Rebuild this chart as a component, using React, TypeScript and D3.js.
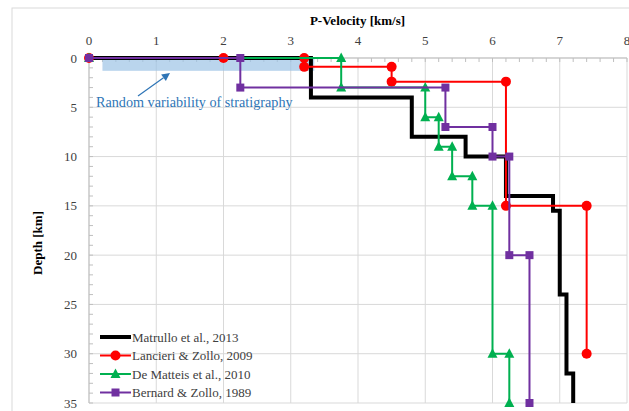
import React from "react";
import * as d3 from "d3";

type Pt = [number, number];

const matrullo: Pt[] = [[0,0],[3.3,0],[3.3,4],[4.8,4],[4.8,8],[5.6,8],[5.6,10],[6.2,10],[6.2,14],[6.9,14],[6.9,15.5],[7.0,15.5],[7.0,24],[7.1,24],[7.1,32],[7.2,32],[7.2,35]];
const lancieri: Pt[] = [[0,0],[2.0,0],[3.2,0],[3.2,0.9],[4.5,0.9],[4.5,2.4],[6.2,2.4],[6.2,15],[7.4,15],[7.4,30]];
const dematteis: Pt[] = [[0,0],[3.75,0],[3.75,3],[5.0,3],[5.0,6],[5.2,6],[5.2,9],[5.4,9],[5.4,12],[5.7,12],[5.7,15],[6.0,15],[6.0,30],[6.25,30],[6.25,35]];
const bernard: Pt[] = [[0,0],[2.25,0],[2.25,3],[5.3,3],[5.3,7],[6.0,7],[6.0,10],[6.25,10],[6.25,20],[6.55,20],[6.55,35]];

const xTicks = [0,1,2,3,4,5,6,7,8];
const yTicks = [0,5,10,15,20,25,30,35];
const stratBand = { v0: 0.2, v1: 3.35, d0: 0.1, d1: 1.3 };

const series = [
  { name: "Matrullo et al., 2013", data: matrullo, color: "#000000", width: 4, marker: "none" },
  { name: "Lancieri & Zollo, 2009", data: lancieri, color: "#ff0000", width: 2, marker: "circle" },
  { name: "De Matteis et al., 2010", data: dematteis, color: "#00b050", width: 2, marker: "triangle" },
  { name: "Bernard & Zollo, 1989", data: bernard, color: "#7030a0", width: 2, marker: "square" },
];

function Marker({ type, x, y, color }: { type: string; x: number; y: number; color: string }) {
  if (type === "circle") return <circle cx={x} cy={y} r={5} fill={color} />;
  if (type === "square") return <rect x={x - 4} y={y - 4} width={8} height={8} fill={color} />;
  if (type === "triangle") return <path d={`M${x},${y - 5.5}L${x + 5},${y + 4}L${x - 5},${y + 4}Z`} fill={color} />;
  return null;
}

export default function App() {
  const W = 629, H = 411;
  const x = d3.scaleLinear().domain([0, 8]).range([89, 627]);
  const y = d3.scaleLinear().domain([0, 35]).range([58, 403]);
  const line = d3.line<Pt>().x(d => x(d[0])).y(d => y(d[1]));
  const minorX = d3.range(0, 8.001, 0.2);
  const minorY = d3.range(0, 35.001, 1);
  const serif = "'Liberation Serif', 'Times New Roman', serif";
  const blue = "#2e75b6";
  const ax0 = 138, ay0 = 96, ax1 = 170, ay1 = 73;
  const ang = Math.atan2(ay1 - ay0, ax1 - ax0);
  const ah = 8, aw = 4;
  const bx = ax1 - ah * Math.cos(ang), by = ay1 - ah * Math.sin(ang);
  const arrowHead = `M${ax1},${ay1}L${bx - aw * Math.sin(ang)},${by + aw * Math.cos(ang)}L${bx + aw * Math.sin(ang)},${by - aw * Math.cos(ang)}Z`;

  return (
    <svg width={W} height={H} style={{ position: "absolute", left: 0, top: 0, background: "#fff" }} fontFamily={serif}>
      <rect x={12} y={8} width={640} height={420} fill="#fff" stroke="#d9d9d9" strokeWidth={1} />
      {xTicks.map(t => (
        <line key={"gx" + t} x1={x(t)} x2={x(t)} y1={y(0)} y2={y(35)} stroke="#d9d9d9" strokeWidth={1} />
      ))}
      {yTicks.map(t => (
        <line key={"gy" + t} x1={x(0)} x2={x(8)} y1={y(t)} y2={y(t)} stroke="#d9d9d9" strokeWidth={1} />
      ))}
      <line x1={x(0)} x2={x(8)} y1={y(0)} y2={y(0)} stroke="#bfbfbf" strokeWidth={1} />
      <line x1={x(0)} x2={x(0)} y1={y(0)} y2={y(35)} stroke="#bfbfbf" strokeWidth={1} />
      {minorX.map((t, i) => (
        <line key={"mx" + i} x1={x(t)} x2={x(t)} y1={y(0)} y2={y(0) + 4} stroke="#bfbfbf" strokeWidth={1} />
      ))}
      {minorY.map((t, i) => (
        <line key={"my" + i} x1={x(0)} x2={x(0) + 4} y1={y(t)} y2={y(t)} stroke="#bfbfbf" strokeWidth={1} />
      ))}
      {xTicks.map(t => (
        <text key={"tx" + t} x={x(t)} y={45} textAnchor="middle" fontSize={13} fill="#404040">{t}</text>
      ))}
      {yTicks.map(t => (
        <text key={"ty" + t} x={77} y={y(t) + 4.5} textAnchor="end" fontSize={13} fill="#404040">{t}</text>
      ))}
      <text x={357.5} y={25} textAnchor="middle" fontSize={13} fontWeight="bold" fill="#000">P-Velocity [km/s]</text>
      <text transform={`translate(42,243) rotate(-90)`} textAnchor="middle" fontSize={13} fontWeight="bold" fill="#000">Depth [km]</text>

      <rect x={x(stratBand.v0)} y={y(stratBand.d0)} width={x(stratBand.v1) - x(stratBand.v0)} height={y(stratBand.d1) - y(stratBand.d0)} fill="#9dc3e6" opacity={0.7} />

      {series.map(s => (
        <g key={s.name}>
          <path d={line(s.data) || ""} fill="none" stroke={s.color} strokeWidth={s.width} strokeLinejoin="miter" />
          {s.data.map((p, i) => (
            <Marker key={i} type={s.marker} x={x(p[0])} y={y(p[1])} color={s.color} />
          ))}
        </g>
      ))}

      <line x1={ax0} y1={ay0} x2={bx} y2={by} stroke={blue} strokeWidth={1.2} />
      <path d={arrowHead} fill={blue} />
      <text x={96} y={107} fontSize={14.2} fill={blue}>Random variability of stratigraphy</text>

      {series.map((s, i) => {
        const ly = 337 + i * 18.5;
        return (
          <g key={"lg" + i}>
            <line x1={100} x2={131} y1={ly} y2={ly} stroke={s.color} strokeWidth={s.width} />
            <Marker type={s.marker} x={115.5} y={ly} color={s.color} />
            <text x={132} y={ly + 4.5} fontSize={13} fill="#404040">{s.name}</text>
          </g>
        );
      })}
    </svg>
  );
}
